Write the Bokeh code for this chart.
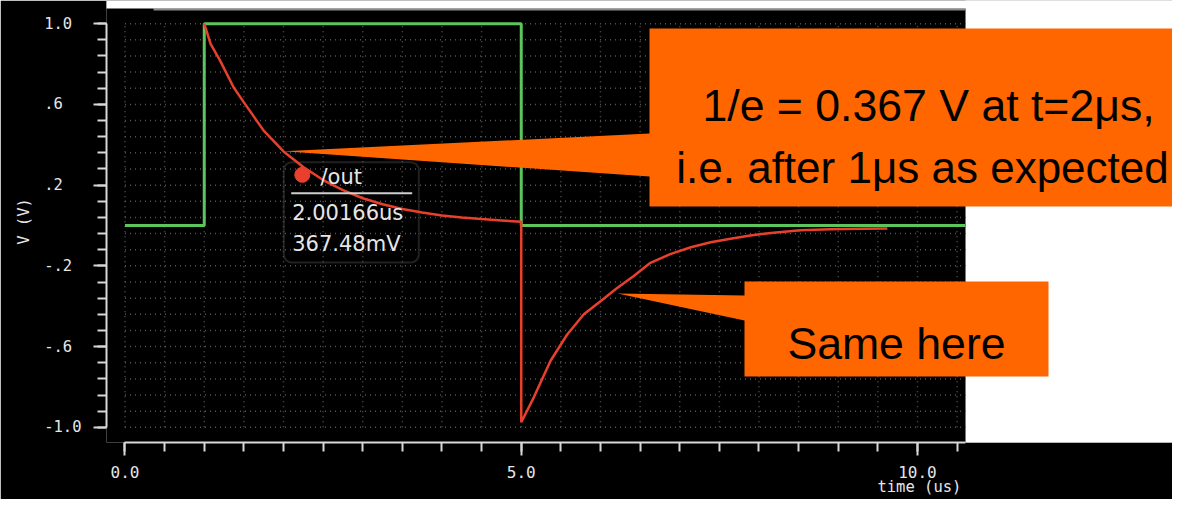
from bokeh.plotting import figure
from bokeh.models import FixedTicker, BoxAnnotation
from bokeh.core.properties import value
from bokeh.embed import file_html
from bokeh.resources import INLINE

# ---------------- data ----------------
pulse_t = [0.0, 1.0, 1.0, 5.0, 5.0, 10.6]
pulse_v = [0.0, 0.0, 1.0, 1.0, 0.0, 0.0]

out_t = [1.0, 1.08, 1.2, 1.37, 1.5, 1.75, 2.0, 2.25, 2.5, 2.75, 3.0, 3.25, 3.5,
         3.75, 4.0, 4.25, 4.5, 4.75, 5.0, 5.0, 5.16, 5.37, 5.58, 5.79, 6.0, 6.21,
         6.42, 6.63, 6.88, 7.14, 7.39, 7.64, 7.89, 8.15, 8.52, 8.9, 9.3, 9.62]
out_v = [1.0, 0.90, 0.817, 0.685, 0.61, 0.47, 0.367, 0.29, 0.225, 0.175, 0.135,
         0.105, 0.082, 0.064, 0.05, 0.04, 0.032, 0.025, 0.018, -0.975, -0.85,
         -0.67, -0.54, -0.44, -0.375, -0.31, -0.25, -0.185, -0.142, -0.108,
         -0.083, -0.066, -0.05, -0.037, -0.024, -0.018, -0.016, -0.015]

cursor_t = 2.00166
cursor_v = 0.36748
net_name = "/out"

x_major = [0.0, 5.0, 10.0]
x_major_labels = ["0.0", "5.0", "10.0"]
x_minor = [round(0.5 * i, 2) for i in range(22)]
y_major = [-1.0, -0.6, -0.2, 0.2, 0.6, 1.0]
y_major_labels = ["-1.0", "-.6", "-.2", ".2", ".6", "1.0"]
y_minor = [round(-1.0 + 0.08 * i, 2) for i in range(26)]

x_title = "time (us)"
y_title = "V (V)"
callout_1_lines = ["1/e = 0.367 V at t=2\u03bcs,", "i.e. after 1\u03bcs as expected"]
callout_2_text = "Same here"

# ---------------- layout constants ----------------
X0, X1 = -0.2334, 13.2177
Y0, Y1 = -1.0751, 1.1147
WIN_TOP = 1.0751          # top edge of the scope window
PLOT_END = 10.606         # right edge of the scope window
ORANGE = "#ff6600"
GREEN = "#5cc65c"
RED = "#e8402c"
FG = "#e6e6e6"
MONO = "DejaVu Sans Mono"

p = figure(width=1172, height=499, output_backend="svg", toolbar_location=None,
           x_range=(X0, X1), y_range=(Y0, Y1),
           background_fill_color="black", border_fill_color="black",
           outline_line_color=None, min_border_left=106, min_border_right=0,
           min_border_top=0, min_border_bottom=57)
p.grid.visible = False


def box(left, right, bottom, top, color, level):
    p.add_layout(BoxAnnotation(left=left, right=right, bottom=bottom, top=top,
                               fill_color=color, fill_alpha=1, line_color=None,
                               level=level))


# white page around the scope window
box(PLOT_END, 20, -5, 5, "white", "underlay")
box(PLOT_END, 20, -5, Y0, "white", "annotation")
box(-5, 20, WIN_TOP, 5, "white", "annotation")
box(-5, -1.470, -5, 5, "white", "annotation")
# thin window edges
box(-1.470, -1.420, -5, WIN_TOP, "#3a3a3a", "annotation")
box(0.36, PLOT_END, WIN_TOP - 0.0099, WIN_TOP, "#8c8c8c", "underlay")

# axes
xa = p.xaxis[0]
xa.ticker = FixedTicker(ticks=x_major, minor_ticks=x_minor)
xa.bounds = (0, PLOT_END)
xa.major_label_overrides = {t: l for t, l in zip(x_major, x_major_labels)}
ya = p.yaxis[0]
ya.ticker = FixedTicker(ticks=y_major, minor_ticks=y_minor)
ya.bounds = (-1.0, 1.0)
width = max(len(s) for s in y_major_labels)
ya.major_label_overrides = {t: l + "\u00a0" * (width - len(l))
                            for t, l in zip(y_major, y_major_labels)}
for ax in (xa, ya):
    ax.axis_line_color = "#d8d8d8"
    ax.axis_line_width = 2
    ax.major_tick_line_color = "#d8d8d8"
    ax.major_tick_line_width = 2
    ax.minor_tick_line_color = "#d8d8d8"
    ax.minor_tick_line_width = 2
    ax.major_tick_in = 0
    ax.major_tick_out = 13
    ax.minor_tick_in = 0
    ax.minor_tick_out = 9
    ax.major_label_text_color = FG
    ax.major_label_text_font = MONO
    ax.axis_label_text_font = MONO
    ax.axis_label_text_font_size = "15.5px"
    ax.axis_label_text_font_style = "normal"
    ax.axis_label_text_color = FG
xa.major_label_text_font_size = "16px"
xa.major_label_standoff = 10
# the x title sits at the right end of the axis: pad it on the left
xa.axis_label = "\u00a0" * 60 + x_title
xa.axis_label_standoff = -3
ya.major_label_text_font_size = "15.5px"
ya.major_label_standoff = 12
ya.axis_label = y_title
ya.axis_label_standoff = 8

# dotted grid
p.segment(x0=[0.0] * len(y_minor), y0=y_minor, x1=[PLOT_END] * len(y_minor), y1=y_minor,
          line_color="#555555", line_width=1.5, line_dash="1 4")
p.segment(x0=x_minor, y0=[-1.0] * len(x_minor), x1=x_minor, y1=[1.0] * len(x_minor),
          line_color="#555555", line_width=1.5, line_dash="1 4")

# cursor readout box
p.add_layout(BoxAnnotation(left=2.004, right=3.707, top=0.3134, bottom=-0.1836,
                           border_radius=8, fill_color="black", fill_alpha=0.35,
                           line_color="#6e6e6e", line_width=2, level="underlay"))

# waveforms
p.line(pulse_t, pulse_v, line_color=GREEN, line_width=3)
p.line(out_t, out_v, line_color=RED, line_width=2.5)

# readout contents
p.scatter([2.237], [0.251], size=15, color=RED)
p.segment(x0=[2.097], y0=[0.16], x1=[3.624], y1=[0.16], line_color="#cfcfcf", line_width=2)
p.text(x=[2.467], y=[0.239], text=[net_name], text_font=value("DejaVu Sans"),
       text_font_size="21px", text_color=FG, text_align="left", text_baseline="middle")
p.text(x=[2.11, 2.11], y=[0.0607, -0.0909],
       text=[f"{cursor_t:.5f}us", f"{cursor_v * 1000:.2f}mV"],
       text_font=value("DejaVu Sans"), text_font_size="21px", text_color=FG,
       text_align="left", text_baseline="middle")

# callouts
p.patch([cursor_t, 6.618, 6.618, 13.5, 13.5, 6.618, 6.618],
        [cursor_v, 0.4554, 0.9757, 0.9757, 0.0939, 0.0939, 0.2425],
        fill_color=ORANGE, line_color=None)
p.patch([6.215, 7.817, 7.817, 11.653, 11.653, 7.817, 7.817],
        [-0.3368, -0.347, -0.2777, -0.2777, -0.7483, -0.7483, -0.471],
        fill_color=ORANGE, line_color=None)
p.text(x=[10.139], y=[0.5942], text=[callout_1_lines[0]],
       text_font=value("Liberation Sans"), text_font_size="44.6px", text_color="black",
       text_align="center", text_baseline="alphabetic")
p.text(x=[10.063], y=[0.2871], text=[callout_1_lines[1]],
       text_font=value("Liberation Sans"), text_font_size="44px", text_color="black",
       text_align="center", text_baseline="alphabetic")
p.text(x=[9.735], y=[-0.585], text=[callout_2_text],
       text_font=value("Liberation Sans"), text_font_size="44.6px", text_color="black",
       text_align="center", text_baseline="alphabetic")

open("out.html", "w").write(file_html(p, INLINE))
